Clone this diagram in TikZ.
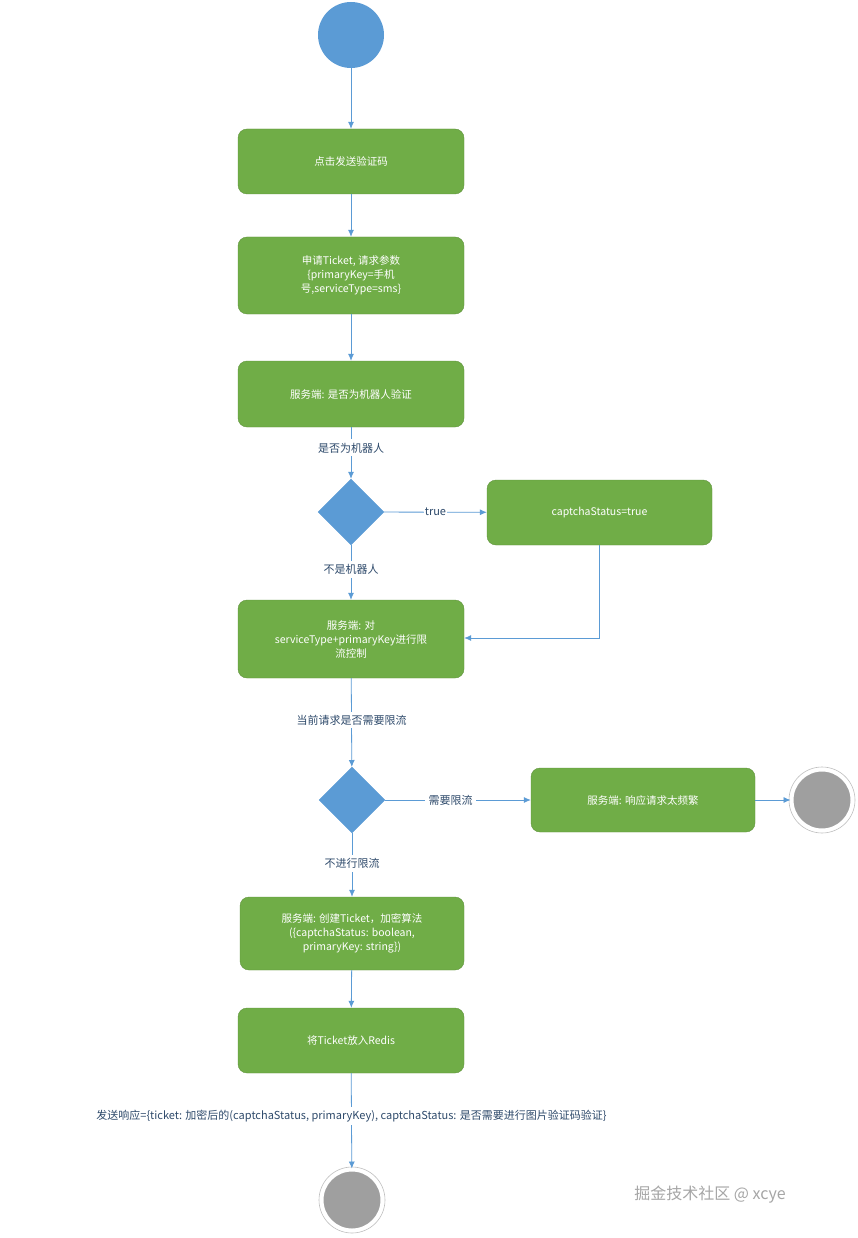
\documentclass[tikz,border=0pt]{standalone}
\usepackage{fontspec}
\setmainfont{Noto Sans CJK SC}
\usetikzlibrary{shapes.geometric,arrows.meta}
\definecolor{gbox}{HTML}{70AD47}
\definecolor{bl}{HTML}{5B9BD5}
\definecolor{lbl}{HTML}{2E4A6B}
\tikzset{
 box/.style={draw=gbox!85!black,fill=gbox,rounded corners=9pt,text=white,font=\fontsize{10.5}{14}\selectfont,align=center,minimum width=226pt,inner sep=2pt},
 dia/.style={diamond,fill=bl,draw=bl,minimum width=66pt,minimum height=66pt,inner sep=0},
 lab/.style={text=lbl,font=\fontsize{11}{14}\selectfont},
 con/.style={draw=bl,-{Latex[length=7pt,width=6pt]},line width=0.8pt},
 endc/.style={circle,fill=gray!75,draw=white,line width=3pt,minimum size=60pt,inner sep=0},
}
\begin{document}
\begin{tikzpicture}[x=1pt,y=-1pt]
\useasboundingbox[fill=white] (0,0) rectangle (857,1238);
\node[circle,fill=bl,minimum size=66pt,inner sep=0] (s) at (351,35) {};
\node[box,minimum height=65pt] (b1) at (351,161.5) {点击发送验证码};
\node[box,minimum height=77pt] (b2) at (351,275.5) {申请Ticket, 请求参数\\\{primaryKey=手机\\号,serviceType=sms\}};
\node[box,minimum height=66pt] (b3) at (351,394) {服务端: 是否为机器人验证};
\node[dia] (d1) at (351,512) {};
\node[box,minimum width=225pt,minimum height=65pt] (c) at (599.5,512.5) {captchaStatus=true};
\node[box,minimum height=78pt] (b4) at (351,639) {服务端: 对\\serviceType+primaryKey进行限\\流控制};
\node[dia] (d2) at (352,800) {};
\node[box,minimum width=224pt,minimum height=64pt] (b5) at (643,800) {服务端: 响应请求太频繁};
\node[endc] (e1) at (822,800) {};
\draw[gray!50,line width=0.6pt] (e1) circle (33pt);
\node[box,minimum width=224pt,minimum height=73pt] (b6) at (352,933.5) {服务端: 创建Ticket，加密算法\\(\{captchaStatus: boolean,\\primaryKey: string\})};
\node[box,minimum height=65pt] (b7) at (351,1040.5) {将Ticket放入Redis};
\node[endc] (e2) at (352,1200) {};
\draw[gray!50,line width=0.6pt] (e2) circle (33pt);

\draw[con] (s) -- (b1);
\draw[con] (b1) -- (b2);
\draw[con] (b2) -- (b3);
\draw[con] (b3) -- node[lab,fill=white,pos=0.4]{是否为机器人} (d1);
\draw[con] (d1) -- node[lab,fill=white,inner sep=1pt]{true} (c);
\draw[con] (d1) -- node[lab,fill=white,pos=0.45]{不是机器人} (b4);
\draw[con] (c.south) |- (b4.east |- 0,638);
\draw[con] (b4) -- node[lab,fill=white,pos=0.47]{当前请求是否需要限流} (d2);
\draw[con] (d2) -- node[lab,fill=white,pos=0.45]{需要限流} (b5);
\draw[con] (b5) -- (e1);
\draw[con] (d2) -- node[lab,fill=white,pos=0.47]{不进行限流} (b6);
\draw[con] (b6) -- (b7);
\draw[con] (b7) -- node[lab,fill=white,pos=0.45]{发送响应=\{ticket: 加密后的(captchaStatus, primaryKey), captchaStatus: 是否需要进行图片验证码验证\}} (e2);
\node[text=gray!70,font=\fontsize{16}{18}\selectfont] (w) at (710,1195) {掘金技术社区 @ xcye};
\end{tikzpicture}
\end{document}
